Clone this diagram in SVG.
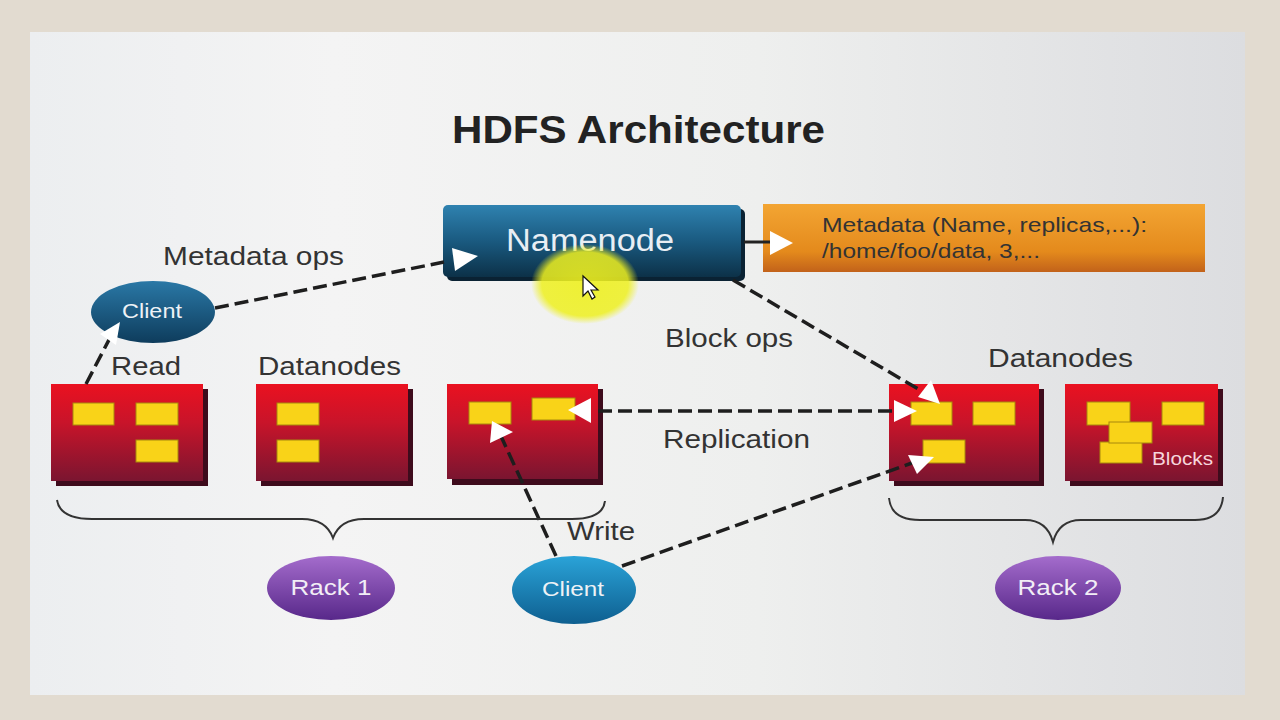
<svg xmlns="http://www.w3.org/2000/svg" width="1280" height="720" viewBox="0 0 1280 720">
<defs>
<linearGradient id="slide" x1="0" y1="0" x2="1" y2="0">
<stop offset="0" stop-color="#eceef0"/><stop offset="0.25" stop-color="#f4f4f4"/><stop offset="0.6" stop-color="#eeefee"/><stop offset="1" stop-color="#dcdde0"/>
</linearGradient>
<linearGradient id="nn" x1="0" y1="0" x2="0" y2="1">
<stop offset="0" stop-color="#2f82b0"/><stop offset="0.5" stop-color="#1a5a80"/><stop offset="1" stop-color="#0c3148"/>
</linearGradient>
<linearGradient id="meta" x1="0" y1="0" x2="0" y2="1">
<stop offset="0" stop-color="#f3a533"/><stop offset="0.7" stop-color="#e48a1c"/><stop offset="1" stop-color="#c2621a"/>
</linearGradient>
<linearGradient id="red" x1="0" y1="0" x2="0" y2="1">
<stop offset="0" stop-color="#ea1120"/><stop offset="0.4" stop-color="#c8142a"/><stop offset="1" stop-color="#7a1530"/>
</linearGradient>
<linearGradient id="cl1" x1="0" y1="0" x2="0" y2="1">
<stop offset="0" stop-color="#2a78a6"/><stop offset="1" stop-color="#0e3c5c"/>
</linearGradient>
<linearGradient id="cl2" x1="0" y1="0" x2="0" y2="1">
<stop offset="0" stop-color="#2aa3d8"/><stop offset="1" stop-color="#0e5f90"/>
</linearGradient>
<linearGradient id="rack" x1="0" y1="0" x2="0" y2="1">
<stop offset="0" stop-color="#a46ccc"/><stop offset="1" stop-color="#58288a"/>
</linearGradient>
<radialGradient id="hl">
<stop offset="0" stop-color="#eef020"/><stop offset="0.8" stop-color="#eef020" stop-opacity="0.95"/><stop offset="1" stop-color="#eef020" stop-opacity="0"/>
</radialGradient>
</defs>
<style>
text{font-family:"Liberation Sans",Arial,sans-serif}
.lbl{font-size:26px;fill:#333}
.wt{fill:#eef2f6;font-size:20px}
.dn{fill:url(#red)}
.sh{fill:#3e0b1c}
.blk{fill:#f9d318;stroke:#a8880c;stroke-width:1}
.dash{stroke:#1e1e1e;stroke-width:3.5;stroke-dasharray:14 6;fill:none}
.ah{fill:#ffffff}
.brace{fill:none;stroke:#333;stroke-width:2}
</style>
<rect x="0" y="0" width="1280" height="720" fill="#e2dbd0"/>
<rect x="30" y="32" width="1215" height="663" fill="url(#slide)"/>
<text x="452" y="143" font-size="38" font-weight="bold" fill="#222" textLength="373" lengthAdjust="spacingAndGlyphs">HDFS Architecture</text>

<g id="namenode">
<rect x="447" y="209" width="298" height="72" rx="5" fill="#0a2233"/>
<rect x="443" y="205" width="298" height="72" rx="5" fill="url(#nn)"/>
<text x="506" y="251" font-size="31" fill="#e8eef4" textLength="168" lengthAdjust="spacingAndGlyphs">Namenode</text>
</g>

<g id="metadata">
<rect x="763" y="204" width="442" height="68" fill="url(#meta)"/>
<text x="822" y="232" font-size="21" fill="#333" textLength="325" lengthAdjust="spacingAndGlyphs">Metadata (Name, replicas,...):</text>
<text x="822" y="258" font-size="21" fill="#333" textLength="218" lengthAdjust="spacingAndGlyphs">/home/foo/data, 3,...</text>
</g>

<text class="lbl" x="163" y="265" textLength="181" lengthAdjust="spacingAndGlyphs">Metadata ops</text>
<text class="lbl" x="111" y="375" textLength="70" lengthAdjust="spacingAndGlyphs">Read</text>
<text class="lbl" x="258" y="375" textLength="143" lengthAdjust="spacingAndGlyphs">Datanodes</text>
<text class="lbl" x="988" y="367" textLength="145" lengthAdjust="spacingAndGlyphs">Datanodes</text>
<text class="lbl" x="665" y="347" textLength="128" lengthAdjust="spacingAndGlyphs">Block ops</text>
<text class="lbl" x="663" y="448" textLength="147" lengthAdjust="spacingAndGlyphs">Replication</text>
<text class="lbl" x="567" y="540" textLength="68" lengthAdjust="spacingAndGlyphs">Write</text>

<g id="dn1">
<rect class="sh" x="56" y="389" width="152" height="97"/>
<rect class="dn" x="51" y="384" width="152" height="97"/>
<rect class="blk" x="73" y="403" width="41" height="22"/>
<rect class="blk" x="136" y="403" width="42" height="22"/>
<rect class="blk" x="136" y="440" width="42" height="22"/>
</g>
<g id="dn2">
<rect class="sh" x="261" y="389" width="152" height="97"/>
<rect class="dn" x="256" y="384" width="152" height="97"/>
<rect class="blk" x="277" y="403" width="42" height="22"/>
<rect class="blk" x="277" y="440" width="42" height="22"/>
</g>
<g id="dn3">
<rect class="sh" x="452" y="389" width="151" height="96"/>
<rect class="dn" x="447" y="384" width="151" height="95"/>
<rect class="blk" x="469" y="402" width="42" height="22"/>
<rect class="blk" x="532" y="398" width="43" height="22"/>
</g>
<g id="dn4">
<rect class="sh" x="894" y="389" width="150" height="97"/>
<rect class="dn" x="889" y="384" width="150" height="97"/>
<rect class="blk" x="911" y="402" width="41" height="23"/>
<rect class="blk" x="973" y="402" width="42" height="23"/>
<rect class="blk" x="923" y="440" width="42" height="23"/>
</g>
<g id="dn5">
<rect class="sh" x="1070" y="389" width="153" height="97"/>
<rect class="dn" x="1065" y="384" width="153" height="97"/>
<rect class="blk" x="1087" y="402" width="43" height="23"/>
<rect class="blk" x="1162" y="402" width="42" height="23"/>
<rect class="blk" x="1100" y="442" width="42" height="21"/>
<rect class="blk" x="1109" y="422" width="43" height="21"/>
<text x="1152" y="465" font-size="18" fill="#f6d6dc" textLength="61" lengthAdjust="spacingAndGlyphs">Blocks</text>
</g>

<g id="connectors">
<line class="dash" x1="215" y1="308" x2="444" y2="262"/>
<line class="dash" x1="86" y1="384" x2="112" y2="334"/>
<line class="dash" x1="733" y1="280" x2="925" y2="393"/>
<line class="dash" x1="598" y1="411" x2="895" y2="411"/>
<line class="dash" x1="556" y1="556" x2="500" y2="434"/>
<line class="dash" x1="622" y1="566" x2="912" y2="463"/>
<line x1="744" y1="242" x2="772" y2="242" stroke="#222" stroke-width="3"/>
</g>

<g id="client1">
<ellipse cx="153" cy="312" rx="62" ry="31" fill="url(#cl1)"/>
<text class="wt" x="152" y="318" text-anchor="middle" textLength="60" lengthAdjust="spacingAndGlyphs">Client</text>
</g>

<g id="client2">
<ellipse cx="574" cy="590" rx="62" ry="34" fill="url(#cl2)"/>
<text class="wt" x="573" y="596" text-anchor="middle" textLength="62" lengthAdjust="spacingAndGlyphs">Client</text>
</g>

<g id="arrowheads">
<polygon class="ah" points="452,248 478,256 455,271"/>
<polygon class="ah" points="770,231 793,243 770,255"/>
<polygon class="ah" points="120,322 116,345 100,334"/>
<polygon class="ah" points="940,404 918,397 931,380"/>
<polygon class="ah" points="568,410 591,398 591,423"/>
<polygon class="ah" points="894,400 917,411 894,422"/>
<polygon class="ah" points="492,421 513,432 490,443"/>
<polygon class="ah" points="908,455 934,457 917,474"/>
</g>

<path class="brace" d="M57,500 Q60,519 92,519 L302,519 Q326,519 333,538 Q340,519 364,519 L572,519 Q603,519 605,501"/>
<path class="brace" d="M889,498 Q891,520 920,520 L1025,520 Q1047,520 1053,542 Q1059,520 1081,520 L1195,520 Q1221,520 1223,497"/>

<g id="rack1">
<ellipse cx="331" cy="588" rx="64" ry="32" fill="url(#rack)"/>
<text x="331" y="595" text-anchor="middle" font-size="22" fill="#f2eef6" textLength="81" lengthAdjust="spacingAndGlyphs">Rack 1</text>
</g>
<g id="rack2">
<ellipse cx="1058" cy="588" rx="63" ry="32" fill="url(#rack)"/>
<text x="1058" y="595" text-anchor="middle" font-size="22" fill="#f2eef6" textLength="81" lengthAdjust="spacingAndGlyphs">Rack 2</text>
</g>

<ellipse cx="585" cy="284" rx="54" ry="40" fill="url(#hl)" opacity="0.9"/>
<path d="M583,276 L583,296 L588,291 L592,299 L595,297 L591,290 L598,290 Z" fill="#fff" stroke="#111" stroke-width="1.2"/>
</svg>
